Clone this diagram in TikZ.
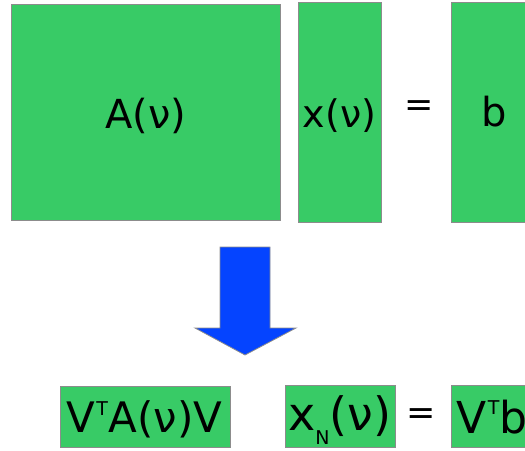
\documentclass[tikz,border=0pt]{standalone}
\usepackage{fontspec}
\setmainfont{DejaVu Sans}
\definecolor{matgreen}{RGB}{56,203,102}
\definecolor{arrowblue}{RGB}{5,68,255}
\definecolor{edgegray}{RGB}{140,140,140}
\tikzset{
  mat/.style={draw=edgegray, fill=matgreen, line width=1pt, inner sep=0pt, outer sep=0pt},
  lbl/.style={inner sep=0pt, font=\fontsize{40}{48}\selectfont},
  lbls/.style={inner sep=0pt, font=\fontsize{38}{46}\selectfont},
  eqs/.style={inner sep=0pt, font=\fontsize{35}{40}\selectfont}
}
\newcommand{\supT}[1]{\kern1.5pt\raisebox{#1}{\fontsize{19}{19}\selectfont T}\kern0.5pt}
\begin{document}
\begin{tikzpicture}[x=1pt,y=-1pt]
\useasboundingbox (0,0) rectangle (525,450);
% top row
\node[mat, minimum width=269pt, minimum height=216pt] (A) at (145.5,112) {};
\node[lbl] (Atext) at (145.5,116) {A(ν)};
\node[mat, minimum width=83pt, minimum height=220pt] (X) at (339.5,112) {};
\node[lbls] (Xtext) at (339.5,116) {x(ν)};
\node[eqs] (eq1) at (419,109) {=};
\node[mat, minimum width=100pt, minimum height=220pt] (B) at (501,112) {};
\node[lbl] (Btext) at (494,112) {b};
% arrow
\filldraw[fill=arrowblue, draw=edgegray, line width=0.8pt]
  (220,247) -- (270,247) -- (270,328) -- (296,328) -- (245,355) -- (195,328) -- (220,328) -- cycle;
% bottom row
\node[mat, minimum width=170pt, minimum height=61pt] (VAV) at (145,416.5) {};
\node[inner sep=0pt, anchor=base west, font=\fontsize{42}{50}\selectfont] (VAVtext) at (66,432) {V\supT{16.8pt}A(ν)V};
\node[mat, minimum width=110pt, minimum height=62pt] (XN) at (340,416) {};
\node[inner sep=0pt, anchor=base west, font=\fontsize{46}{54}\selectfont] (XNtext) at (288,430) {x\raisebox{-14pt}{\fontsize{19}{19}\selectfont N}(ν)};
\node[eqs] (eq2) at (421,417) {=};
\node[mat, minimum width=100pt, minimum height=62pt] (VB) at (501,416) {};
\node[inner sep=0pt, anchor=base west, font=\fontsize{44}{52}\selectfont] (VBtext) at (456,433) {V\supT{18.2pt}b};
\end{tikzpicture}
\end{document}
